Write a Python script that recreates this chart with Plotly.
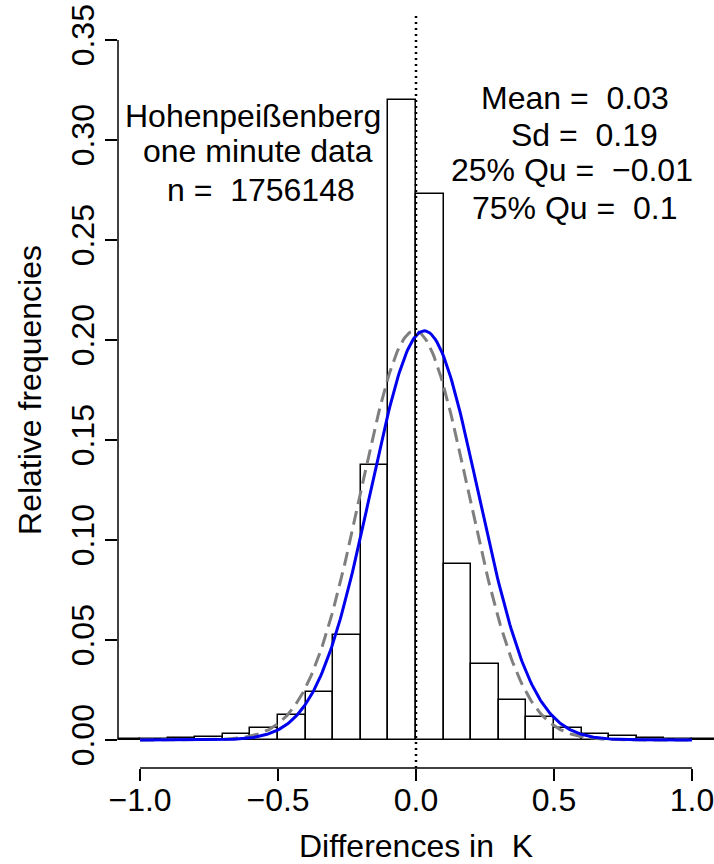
import numpy as np
import plotly.graph_objects as go

# ---- data ----
bin_left = [-1.1, -1.0, -0.9, -0.8, -0.7, -0.6, -0.5, -0.4, -0.3, -0.2, -0.1,
            0.0, 0.1, 0.2, 0.3, 0.4, 0.5, 0.6, 0.7, 0.8, 0.9, 1.0]
rel_freq = [0.0004, 0.0006, 0.0012, 0.0015, 0.003, 0.006, 0.0125, 0.024, 0.0525, 0.1375, 0.32,
            0.273, 0.088, 0.038, 0.020, 0.0115, 0.006, 0.003, 0.002, 0.001, 0.0006, 0.0003]
bin_width = 0.1

# fitted normal curves (parameters)
blue_mean, blue_sd = 0.03, 0.195
gray_mean, gray_sd = -0.005, 0.195

x_ticks = [-1.0, -0.5, 0.0, 0.5, 1.0]
x_ticktext = ["\u22121.0", "\u22120.5", "0.0", "0.5", "1.0"]
y_ticks = [0.00, 0.05, 0.10, 0.15, 0.20, 0.25, 0.30, 0.35]
y_ticktext = ["0.00", "0.05", "0.10", "0.15", "0.20", "0.25", "0.30", "0.35"]

left_text = ["Hohenpei\u00dfenberg", "one minute data", "n = \u00a01756148"]
right_text = ["Mean = \u00a00.03", "Sd = \u00a00.19", "25% Qu = \u00a0\u22120.01", "75% Qu = \u00a00.1"]

FONT = "Liberation Sans, Arial, sans-serif"
FS = 32


def normal_curve(mean, sd, xs):
    return bin_width * np.exp(-0.5 * ((xs - mean) / sd) ** 2) / (sd * np.sqrt(2 * np.pi))


xs = np.linspace(-1.0, 1.0, 401)
centers = [b + bin_width / 2 for b in bin_left]

fig = go.Figure()
fig.add_trace(go.Bar(
    x=centers, y=rel_freq, width=bin_width,
    marker=dict(color="white", line=dict(color="black", width=1.5)),
    showlegend=False, hoverinfo="skip"))
fig.add_trace(go.Scatter(
    x=xs, y=normal_curve(gray_mean, gray_sd, xs), mode="lines",
    line=dict(color="#7f7f7f", width=3, dash="14px,7px"), showlegend=False))
fig.add_trace(go.Scatter(
    x=xs, y=normal_curve(blue_mean, blue_sd, xs), mode="lines",
    line=dict(color="#0000ee", width=3), showlegend=False))

# dotted vertical line at 0
fig.add_shape(type="line", xref="x", yref="paper", x0=0, x1=0, y0=0, y1=1,
              line=dict(color="black", width=2.5, dash="2px,4px"))
# R-style detached axis lines
fig.add_shape(type="line", xref="x", yref="paper", x0=-1, x1=1, y0=0, y1=0,
              line=dict(color="black", width=1.5))
fig.add_shape(type="line", xref="paper", yref="y", x0=0, x1=0, y0=0, y1=0.35,
              line=dict(color="black", width=1.5))

left_pos = [(-0.592, 0.312), (-0.574, 0.2945), (-0.562, 0.275)]
right_pos = [(0.576, 0.321), (0.609, 0.3025), (0.567, 0.285), (0.576, 0.266)]
for t, (px, py) in zip(left_text + right_text, left_pos + right_pos):
    fig.add_annotation(x=px, y=py, xref="x", yref="y", text=t, showarrow=False,
                       xanchor="center", yanchor="middle",
                       font=dict(family=FONT, size=FS, color="black"))

fig.update_layout(
    width=714, height=864,
    margin=dict(l=118, r=0, t=12, b=96),
    plot_bgcolor="white", paper_bgcolor="white",
    bargap=0,
    font=dict(family=FONT, size=FS, color="black"),
    xaxis=dict(range=[-1.08, 1.08], showgrid=False, zeroline=False, showline=False,
               tickmode="array", tickvals=x_ticks, ticktext=x_ticktext,
               ticks="outside", ticklen=12, tickwidth=1.5, tickcolor="black",
               tickfont=dict(family=FONT, size=FS), ticklabelstandoff=-8,
               ticklabeloverflow="allow",
               title=dict(text="Differences in \u00a0K", font=dict(family=FONT, size=FS), standoff=18),
               automargin=False),
    yaxis=dict(range=[-0.014, 0.364], showgrid=False, zeroline=False, showline=False,
               tickmode="array", tickvals=y_ticks, ticktext=y_ticktext, tickangle=-90,
               ticks="outside", ticklen=12, tickwidth=1.5, tickcolor="black",
               tickfont=dict(family=FONT, size=FS), ticklabelstandoff=-2,
               ticklabeloverflow="allow",
               title=dict(text="Relative frequencies", font=dict(family=FONT, size=FS), standoff=14),
               automargin=False),
)

fig.write_html("out.html", config={"displayModeBar": False},
               post_script="document.body.style.margin='0';document.body.style.overflow='hidden';")
